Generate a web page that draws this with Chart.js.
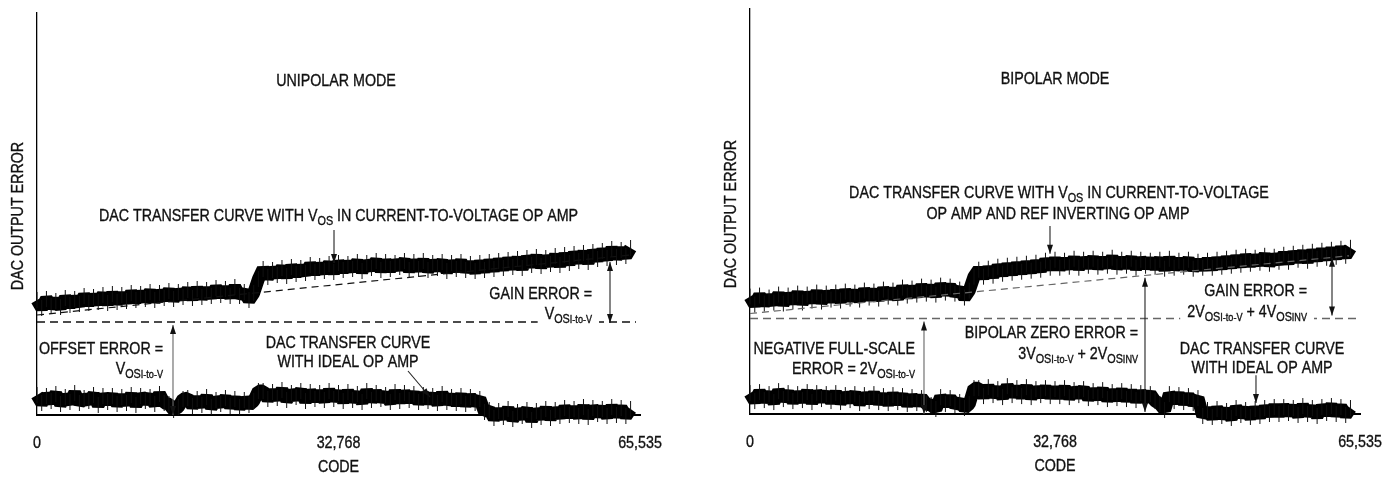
<!DOCTYPE html>
<html>
<head>
<meta charset="utf-8">
<script src="https://cdn.jsdelivr.net/npm/chart.js@4.4.1/dist/chart.umd.min.js"></script>
<style>
html,body{margin:0;padding:0;background:#fff;}
#wrap{position:relative;width:1389px;height:480px;}
#left{position:absolute;left:0;top:0;}
#right{position:absolute;left:694px;top:0;}
</style>
</head>
<body>
<div id="wrap">
<canvas id="left" width="694" height="480"></canvas>
<canvas id="right" width="695" height="480"></canvas>
</div>
<script>
// sampling grid of the codes (every 512 codes)
const codes=Array.from({length:127},(_,i)=>i*512);
const tickCodes=[0,32768,65535];
const tickLabels=["0","32,768","65,535"];

// unipolar panel, error in px-like units above the zero line
const uniLower=[
20,12,19,14,21,11,18,13,22,12,17,14,20,10,19,13,
19,11,18,12,20,10,19,14,18,11,21,12,11,5,8,16,
17,9,16,10,18,8,15,11,17,9,16,8,15,10,14,24,
24,16,23,17,25,15,22,18,24,14,23,16,22,15,24,16,
22,14,23,15,21,13,24,15,22,16,20,13,23,14,22,15,
21,13,20,14,19,12,21,13,18,12,19,11,18,12,16,3,
5,-3,4,-2,6,-4,3,-1,5,-5,4,-2,6,-3,5,-1,
7,0,6,-1,8,-2,7,1,6,-1,8,0,7,-1,6];
const uniUpper=[
115,107,116,109,114,108,117,110,116,111,119,112,118,113,120,112,
121,113,120,114,122,115,121,116,123,115,122,117,124,116,123,118,
125,117,126,118,125,119,127,120,126,119,128,119,123,115,122,136,
146,138,145,140,147,139,148,141,147,142,150,143,149,144,151,143,
152,145,151,146,153,144,152,147,154,145,153,146,152,148,154,145,
153,146,154,145,152,147,153,144,152,146,153,145,151,144,152,145,
153,146,154,147,155,148,156,147,157,150,158,149,157,151,159,150,
160,152,161,154,162,153,163,156,164,157,166,158,165,159,167];
const uniIdealCodes=[0,64450];
const uniIdeal=[100,160];
const uniOffsetCodes=[0,65100];
const uniOffset=[93,93];

// bipolar panel
const bipLower=[
21,13,22,14,20,12,23,15,21,13,20,14,22,12,21,15,
20,13,21,12,19,14,20,11,19,13,20,12,18,11,19,12,
18,10,17,11,16,10,9,5,17,10,16,9,12,6,10,26,
26,18,27,19,25,17,28,19,26,18,27,17,25,19,26,18,
25,18,26,17,24,19,25,16,23,17,24,15,22,16,23,15,
22,14,21,15,20,13,10,4,20,13,19,12,18,11,16,-2,
4,-3,5,-2,3,-4,6,-1,4,-3,5,-2,6,0,7,0,
7,1,6,-1,8,0,6,-2,7,1,8,0,7,-1,6];
const bipUpper=[
118,110,119,111,117,112,120,111,119,113,121,112,120,114,122,113,
121,115,122,114,123,116,122,115,124,117,123,116,125,118,124,117,
127,119,126,120,128,121,127,120,129,122,128,121,125,117,124,138,
145,138,146,139,148,141,149,142,150,143,151,144,152,145,154,147,
155,147,154,148,156,147,155,149,156,148,155,149,157,148,155,149,
156,147,155,149,154,148,155,146,156,147,154,148,155,146,153,147,
154,147,155,148,156,149,157,150,158,151,157,152,159,151,158,153,
160,153,161,155,162,154,163,156,164,157,165,158,166,159,167];
const bipIdealCodes=[0,64353];
const bipIdeal=[101,159];
const bipOffsetCodes=[0,65535];
const bipOffset=[96,96];

const FONT='"Liberation Sans", Arial, sans-serif';
const SQ=0.865;
const SIZES={n:[16.5,0],s:[12.5,4],t:[10.5,4]};

function pts(xs,ys){
    return ys.map((v,i)=>({x:xs[i],y:v}));
}
function richWidth(ctx,parts){
    let w=0;
    parts.forEach(([t,k])=>{
        ctx.font=SIZES[k][0]+"px "+FONT;
        w+=ctx.measureText(t).width*SQ;
    });
    return w;
}
function drawRich(ctx,parts,x,y,align,bg){
    if(typeof parts==="string") parts=[[parts,"n"]];
    const w=richWidth(ctx,parts);
    let cx=align==="right"?x-w:align==="center"?x-w/2:x;
    if(bg){
        ctx.fillStyle="#fff";
        ctx.fillRect(cx-7,y-9,w+14,22);
    }
    ctx.fillStyle="#111";
    ctx.strokeStyle="#111";
    ctx.lineWidth=0.35;
    ctx.textBaseline="alphabetic";
    ctx.textAlign="left";
    parts.forEach(([t,k])=>{
        ctx.font=SIZES[k][0]+"px "+FONT;
        ctx.save();
        ctx.translate(cx,y+6+SIZES[k][1]);
        ctx.scale(SQ,1);
        ctx.fillText(t,0,0);
        ctx.strokeText(t,0,0);
        ctx.restore();
        cx+=ctx.measureText(t).width*SQ;
    });
}
function arrowHead(ctx,x,y,a){
    const L=9,W=3;
    ctx.beginPath();
    ctx.moveTo(x,y);
    ctx.lineTo(x-L*Math.cos(a)+W*Math.sin(a),y-L*Math.sin(a)-W*Math.cos(a));
    ctx.lineTo(x-L*Math.cos(a)-W*Math.sin(a),y-L*Math.sin(a)+W*Math.cos(a));
    ctx.closePath();
    ctx.fill();
}
function arrow(ctx,x1,y1,x2,y2,both,color){
    ctx.strokeStyle=color;
    ctx.lineWidth=1.1;
    ctx.beginPath();
    ctx.moveTo(x1,y1);
    ctx.lineTo(x2,y2);
    ctx.stroke();
    ctx.fillStyle="#111";
    const a=Math.atan2(y2-y1,x2-x1);
    arrowHead(ctx,x2,y2,a);
    if(both) arrowHead(ctx,x1,y1,a+Math.PI);
}

const VOS=[["V","n"],["OS","s"],["I-to-V","t"]];

const uniNotes={
    yTitle:199,
    texts:[
        {t:"UNIPOLAR MODE",x:32497,y:335,al:"center"},
        {t:[["DAC TRANSFER CURVE WITH V","n"],["OS","s"],[" IN CURRENT-TO-VOLTAGE OP AMP","n"]],x:32768,y:200,al:"center"},
        {t:"GAIN ERROR =",x:60320,y:122,al:"right"},
        {t:VOS,x:60320,y:102,al:"right",bg:true},
        {t:"OFFSET ERROR =",x:13694,y:67,al:"right"},
        {t:VOS,x:13694,y:47,al:"right"},
        {t:"DAC TRANSFER CURVE",x:33800,y:73,al:"center"},
        {t:"WITH IDEAL OP AMP",x:33800,y:54,al:"center"}
    ],
    arrows:[
        {x1:32279,y1:185,x2:32279,y2:152},
        {x1:62275,y1:153,x2:62275,y2:92,both:true},
        {x1:14780,y1:90,x2:14780,y2:0,both:true,c:"#666"},
        {x1:40320,y1:44,x2:42710,y2:18}
    ]
};
const bipNotes={
    yTitle:201,
    texts:[
        {t:"BIPOLAR MODE",x:32768,y:338,al:"center"},
        {t:[["DAC TRANSFER CURVE WITH V","n"],["OS","s"],[" IN CURRENT-TO-VOLTAGE","n"]],x:33196,y:223,al:"center"},
        {t:"OP AMP AND REF INVERTING OP AMP",x:33089,y:202,al:"center"},
        {t:"GAIN ERROR =",x:59840,y:125,al:"right"},
        {t:[["2V","n"],["OS","s"],["I-to-V","t"],[" + 4V","n"],["OS","s"],["INV","t"]],x:59840,y:104,al:"right",bg:true},
        {t:"NEGATIVE FULL-SCALE",x:17726,y:66,al:"right"},
        {t:[["ERROR = 2V","n"],["OS","s"],["I-to-V","t"]],x:17726,y:46,al:"right"},
        {t:"BIPOLAR ZERO ERROR =",x:41684,y:82,al:"right"},
        {t:[["3V","n"],["OS","s"],["I-to-V","t"],[" + 2V","n"],["OS","s"],["INV","t"]],x:41684,y:61,al:"right"},
        {t:"DAC TRANSFER CURVE",x:55005,y:66,al:"center"},
        {t:"WITH IDEAL OP AMP",x:55005,y:47,al:"center"}
    ],
    arrows:[
        {x1:32230,y1:189,x2:32230,y2:161},
        {x1:62527,y1:157,x2:62527,y2:99,both:true},
        {x1:18693,y1:93,x2:18693,y2:0,both:true,c:"#666"},
        {x1:42436,y1:137,x2:42436,y2:2,both:true},
        {x1:54360,y1:39,x2:54360,y2:11}
    ]
};

function notesPlugin(notes){
    return {
        id:"notes",
        afterDatasetsDraw(chart){
            const ctx=chart.ctx;
            const xs=chart.scales.x, ys=chart.scales.y;
            const area=chart.chartArea;
            ctx.save();
            notes.texts.forEach(n=>{
                drawRich(ctx,n.t,xs.getPixelForValue(n.x),ys.getPixelForValue(n.y),n.al,n.bg);
            });
            notes.arrows.forEach(a=>{
                arrow(ctx,xs.getPixelForValue(a.x1),ys.getPixelForValue(a.y1),
                    xs.getPixelForValue(a.x2),ys.getPixelForValue(a.y2),a.both,a.c||"#222");
            });
            // tick labels and axis titles
            tickCodes.forEach((c,i)=>{
                drawRich(ctx,[[tickLabels[i],"n"]],xs.getPixelForValue(c),area.bottom+27,"center");
            });
            drawRich(ctx,"CODE",(area.left+area.right)/2,area.bottom+51,"center");
            ctx.save();
            ctx.translate(area.left-20,ys.getPixelForValue(notes.yTitle));
            ctx.rotate(-Math.PI/2);
            drawRich(ctx,"DAC OUTPUT ERROR",0,0,"center");
            ctx.restore();
            ctx.restore();
        }
    };
}

function makeChart(id,cfg){
    // thick core line plus a short vertical hair at every sample
    const curve={
        borderColor:"#000",borderWidth:13,borderJoinStyle:"bevel",
        pointStyle:"line",pointRotation:90,pointRadius:8,
        pointBorderWidth:1,pointBorderColor:"#111",pointBackgroundColor:"#111",
        clip:false
    };
    return new Chart(document.getElementById(id),{
        type:"line",
        data:{
            datasets:[
                {data:pts(cfg.offsetCodes,cfg.offset),borderColor:cfg.dash,borderWidth:1.4,borderDash:[8,5],pointRadius:0,clip:false},
                {data:pts(cfg.idealCodes,cfg.ideal),borderColor:cfg.dash,borderWidth:1.2,borderDash:[7,5],pointRadius:0,clip:false},
                Object.assign({data:pts(codes,cfg.lower)},curve),
                Object.assign({data:pts(codes,cfg.upper)},curve)
            ]
        },
        options:{
            responsive:false,
            animation:false,
            events:[],
            layout:{padding:cfg.pad},
            plugins:{legend:{display:false},tooltip:{enabled:false}},
            scales:{
                x:{
                    type:"linear",min:0,max:65535,
                    ticks:{display:false},
                    grid:{display:false,drawTicks:false},
                    border:{display:true,color:"#000",width:2}
                },
                y:{
                    min:0,max:cfg.ymax,
                    ticks:{display:false},
                    grid:{display:false,drawTicks:false},
                    border:{display:true,color:"#000",width:1.3}
                }
            }
        },
        plugins:[notesPlugin(cfg.notes)]
    });
}

makeChart("left",{
    lower:uniLower,upper:uniUpper,
    idealCodes:uniIdealCodes,ideal:uniIdeal,
    offsetCodes:uniOffsetCodes,offset:uniOffset,
    dash:"#111",ymax:402,
    pad:{left:37,right:54,top:13,bottom:65},
    notes:uniNotes
});
makeChart("right",{
    lower:bipLower,upper:bipUpper,
    idealCodes:bipIdealCodes,ideal:bipIdeal,
    offsetCodes:bipOffsetCodes,offset:bipOffset,
    dash:"#666",ymax:407,
    pad:{left:56,right:29,top:7,bottom:66},
    notes:bipNotes
});
</script>
</body>
</html>
